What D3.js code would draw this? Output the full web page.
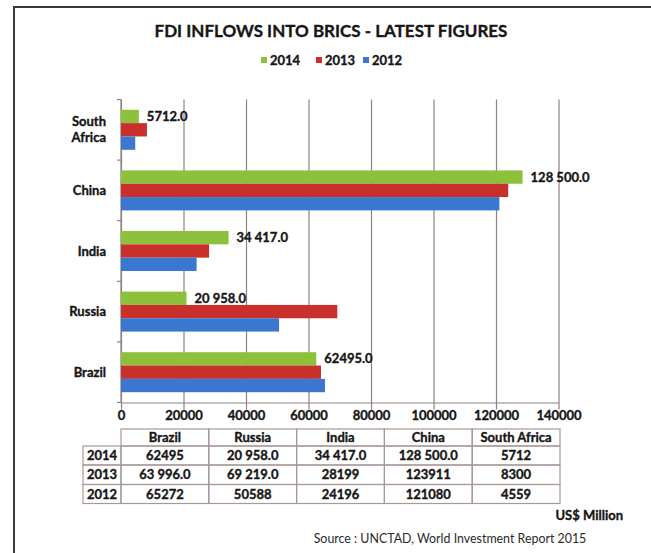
<!DOCTYPE html>
<html>
<head>
<meta charset="utf-8">
<script src="https://cdn.jsdelivr.net/npm/d3@7"></script>
<style>
  html, body { margin: 0; padding: 0; background: #fff; }
  svg { display: block; font-family: Lato, "Open Sans", sans-serif; }
  .b { font-weight: 700; stroke: #161616; stroke-width: 0.35px; }
</style>
</head>
<body>
<svg id="chart" width="651" height="553"></svg>
<script>
// FDI inflows into BRICS, US$ million
const categories = ["South Africa", "China", "India", "Russia", "Brazil"];
const tableColumns = ["Brazil", "Russia", "India", "China", "South Africa"];
const years = ["2014", "2013", "2012"];
const seriesColors = ["#8dc13c", "#c9302c", "#3a78d0"];

// values in category order (South Africa .. Brazil)
const values2014 = [5712, 128500, 34417, 20958, 62495];
const values2013 = [8300, 123911, 28199, 69219, 63996];
const values2012 = [4559, 121080, 24196, 50588, 65272];

// data labels shown on the 2014 bars
const labels2014 = ["5712.0", "128 500.0", "34 417.0", "20 958.0", "62495.0"];

// table text, rows by year, columns Brazil .. South Africa
const table2014 = ["62495", "20 958.0", "34 417.0", "128 500.0", "5712"];
const table2013 = ["63 996.0", "69 219.0", "28199", "123911", "8300"];
const table2012 = ["65272", "50588", "24196", "121080", "4559"];

const xTicks = [0, 20000, 40000, 60000, 80000, 100000, 120000, 140000];

const seriesValues = [values2014, values2013, values2012];
const tableRows = [table2014, table2013, table2012];

const svg = d3.select("#chart");
const ink = "#161616";
const gridColor = "#8f8282";
const tableLine = "#a89898";

// frame
svg.append("line").attr("x1", 14).attr("x2", 651).attr("y1", 7).attr("y2", 7)
  .attr("stroke", "#3a3a3a").attr("stroke-width", 2);
svg.append("line").attr("x1", 14).attr("x2", 14).attr("y1", 6).attr("y2", 553)
  .attr("stroke", "#3a3a3a").attr("stroke-width", 2);

// title
svg.append("text").attr("class", "b").attr("x", 331).attr("y", 37).attr("text-anchor", "middle")
  .attr("font-size", 17).attr("fill", ink)
  .text("FDI INFLOWS INTO BRICS - LATEST FIGURES");

// legend
const legendX = [261, 316, 363];
years.forEach((yr, i) => {
  const g = svg.append("g").attr("transform", `translate(${legendX[i]},60)`);
  g.append("rect").attr("x", 0).attr("y", -3).attr("width", 6).attr("height", 6)
    .attr("fill", seriesColors[i]);
  g.append("text").attr("class", "b").attr("x", 9).attr("y", 4.5).attr("font-size", 13)
    .attr("fill", ink).text(yr);
});

// scales
const plotTop = 99.5, plotBottom = 402.5, plotLeft = 121, plotRight = 558.5;
const x = d3.scaleLinear().domain([0, 140000]).range([plotLeft, plotRight]);
const y0 = d3.scaleBand().domain(categories).range([plotTop, plotBottom]);
const bw = y0.bandwidth();
const y1 = d3.scaleBand().domain(years).range([bw * 0.17, bw * 0.83]);

// grid + bottom axis
const xAxis = svg.append("g").attr("transform", `translate(0,${plotBottom})`)
  .call(d3.axisBottom(x).tickValues(xTicks).tickSize(7).tickSizeOuter(0).tickFormat(d3.format("d")));
xAxis.select(".domain").attr("stroke", gridColor).attr("stroke-width", 1.2);
xAxis.selectAll(".tick line").attr("y1", -(plotBottom - plotTop))
  .attr("stroke", gridColor).attr("stroke-width", 1.2);
xAxis.selectAll(".tick text").attr("class", "b").attr("y", 17).attr("dy", 0).attr("font-size", 13)
  .attr("fill", ink).attr("font-family", "Lato, sans-serif");

// left axis with ticks at category boundaries
const boundaries = categories.map(c => y0(c)).concat([plotBottom]);
svg.append("line").attr("x1", plotLeft).attr("x2", plotLeft)
  .attr("y1", plotTop).attr("y2", plotBottom).attr("stroke", gridColor).attr("stroke-width", 1.2);
svg.selectAll(".ytick").data(boundaries).join("line").attr("class", "ytick")
  .attr("x1", plotLeft - 4).attr("x2", plotLeft)
  .attr("y1", d => d).attr("y2", d => d)
  .attr("stroke", gridColor).attr("stroke-width", 1.2);

// category labels
categories.forEach(c => {
  const words = c.split(" ");
  const cy = y0(c) + bw / 2;
  const t = svg.append("text").attr("class", "b").attr("text-anchor", "end").attr("font-size", 13)
    .attr("fill", ink);
  words.forEach((w, i) => {
    t.append("tspan").attr("x", 106)
      .attr("y", cy + 4.5 + (i - (words.length - 1) / 2) * 16).text(w);
  });
});

// bars
const barData = [];
categories.forEach((c, ci) => {
  years.forEach((yr, si) => {
    barData.push({ cat: c, year: yr, si, value: seriesValues[si][ci] });
  });
});
svg.append("g").selectAll("rect").data(barData).join("rect")
  .attr("x", x(0))
  .attr("y", d => y0(d.cat) + y1(d.year))
  .attr("width", d => x(d.value) - x(0))
  .attr("height", y1.bandwidth())
  .attr("fill", d => seriesColors[d.si]);

// 2014 data labels
svg.append("g").selectAll("text").data(categories).join("text").attr("class", "b")
  .attr("x", (c, i) => x(values2014[i]) + 8)
  .attr("y", c => y0(c) + y1("2014") + y1.bandwidth() / 2 + 4.5)
  .attr("font-size", 13).attr("fill", ink)
  .text((c, i) => labels2014[i]);

// data table
const tx = d3.scaleBand().domain(tableColumns).range([plotLeft, plotRight + 1.5]);
const rowEdges = [429, 446, 465, 484.5, 503.5];
const tableG = svg.append("g");
// header row
tableColumns.forEach(col => {
  tableG.append("rect").attr("x", tx(col)).attr("y", rowEdges[0])
    .attr("width", tx.bandwidth()).attr("height", rowEdges[1] - rowEdges[0])
    .attr("fill", "none").attr("stroke", tableLine).attr("stroke-width", 1.2);
  tableG.append("text").attr("class", "b").attr("x", tx(col) + tx.bandwidth() / 2)
    .attr("y", (rowEdges[0] + rowEdges[1]) / 2 + 4.5).attr("text-anchor", "middle")
    .attr("font-size", 13).attr("fill", ink).text(col);
});
// value rows
years.forEach((yr, r) => {
  const top = rowEdges[r + 1], bot = rowEdges[r + 2], mid = (top + bot) / 2 + 4.5;
  tableG.append("rect").attr("x", 83).attr("y", top).attr("width", plotLeft - 83)
    .attr("height", bot - top).attr("fill", "none").attr("stroke", tableLine).attr("stroke-width", 1.2);
  tableG.append("text").attr("class", "b").attr("x", 87).attr("y", mid).attr("font-size", 13)
    .attr("fill", ink).text(yr);
  tableColumns.forEach((col, ci) => {
    tableG.append("rect").attr("x", tx(col)).attr("y", top)
      .attr("width", tx.bandwidth()).attr("height", bot - top)
      .attr("fill", "none").attr("stroke", tableLine).attr("stroke-width", 1.2);
    tableG.append("text").attr("class", "b").attr("x", tx(col) + tx.bandwidth() / 2).attr("y", mid)
      .attr("text-anchor", "middle").attr("font-size", 13)
      .attr("fill", ink).text(tableRows[r][ci]);
  });
});

// unit and source
svg.append("text").attr("class", "b").attr("x", 623).attr("y", 520).attr("text-anchor", "end")
  .attr("font-size", 13).attr("fill", ink).text("US$ Million");
svg.append("text").attr("x", 450).attr("y", 543).attr("text-anchor", "middle")
  .attr("font-size", 12.4).attr("fill", "#2a2a2a")
  .text("Source : UNCTAD, World Investment Report 2015");
</script>
</body>
</html>
